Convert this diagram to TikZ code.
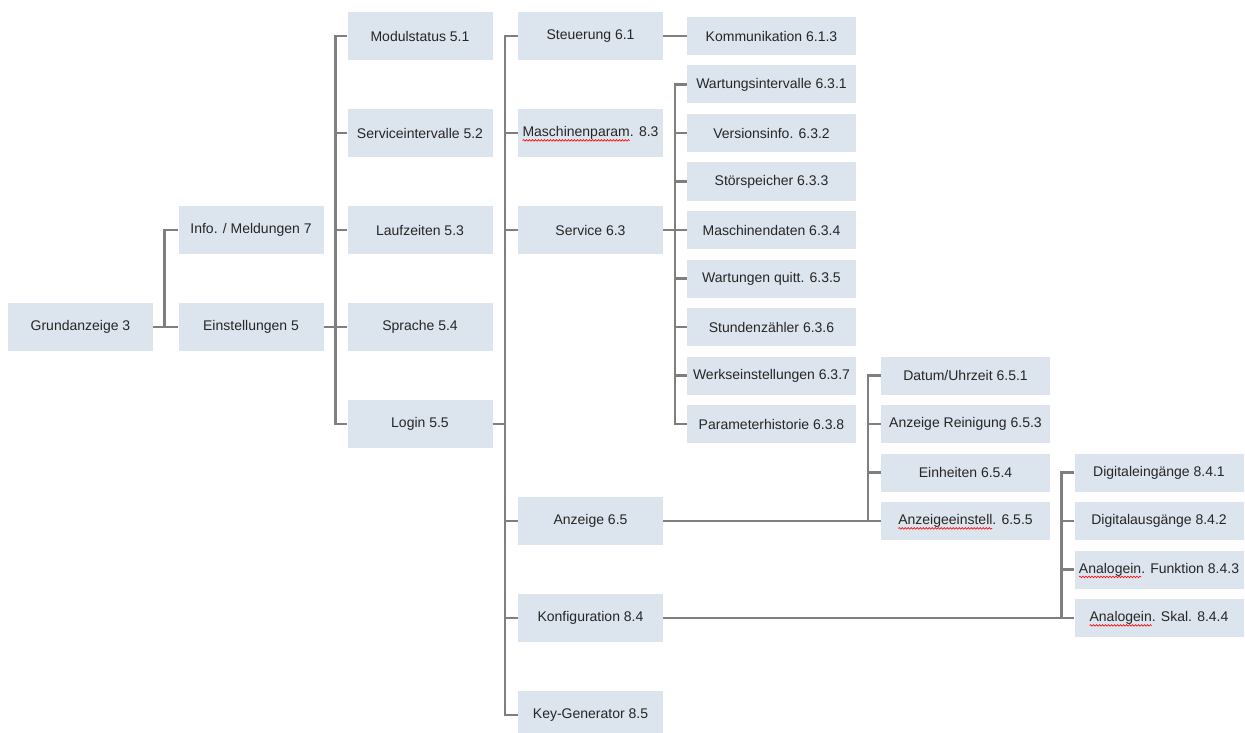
\documentclass[tikz,border=0pt]{standalone}
\usepackage{fontspec}
\setmainfont{Liberation Sans}
\usetikzlibrary{decorations.pathmorphing}
\definecolor{boxfill}{HTML}{DCE4EE}
\definecolor{linegray}{HTML}{7F7F7F}
\definecolor{textgray}{HTML}{262626}
% red wavy underline (spell-check mark) under a word
\newsavebox\spellbox
\newcommand\spellwave[1]{\sbox\spellbox{#1}%
  \tikz[overlay,baseline=0pt,x=1pt,y=1pt]\draw[red,line width=0.6pt,decorate,
    decoration={snake,amplitude=0.8pt,segment length=3pt}]
    (0,-3.8) -- (\the\wd\spellbox,-3.8);%
  \usebox\spellbox}
\begin{document}
\begin{tikzpicture}[x=1pt,y=-1pt,
  bigbox/.style={fill=boxfill,draw=none,minimum width=145pt,minimum height=48pt,
    inner sep=0pt,font=\fontsize{14pt}{16pt}\selectfont,text=textgray},
  smallbox/.style={fill=boxfill,draw=none,minimum width=169pt,minimum height=38pt,
    inner sep=0pt,font=\fontsize{14pt}{16pt}\selectfont,text=textgray},
  link/.style={draw=linegray,line width=2.4pt}]
\useasboundingbox (0,0) rectangle (1245,733);

% level 1 and 2
\node[bigbox] (g3) at (80.5,327) {Grundanzeige 3};
\node[bigbox] (i7) at (251,230) {Info. / Meldungen 7};
\node[bigbox] (e5) at (251,327) {Einstellungen 5};

% level 3 (Einstellungen)
\node[bigbox] (m51) at (420,36)  {Modulstatus 5.1};
\node[bigbox] (s52) at (420,133) {Serviceintervalle 5.2};
\node[bigbox] (l53) at (420,230) {Laufzeiten 5.3};
\node[bigbox] (s54) at (420,327) {Sprache 5.4};
\node[bigbox] (l55) at (420,424) {Login 5.5};

% level 4 (Login)
\node[bigbox] (st61) at (590.5,36)  {Steuerung 6.1};
\node[bigbox] (mp83) at (590.5,133) {\spellwave{Maschinenparam}. 8.3};
\node[bigbox] (sv63) at (590.5,230) {Service 6.3};
\node[bigbox] (a65)  at (590.5,521) {Anzeige 6.5};
\node[bigbox] (k84)  at (590.5,618) {Konfiguration 8.4};
\node[bigbox] (kg85) at (590.5,715) {Key-Generator 8.5};

% level 5
\node[smallbox] (k613) at (771.5,36) {Kommunikation 6.1.3};
\node[smallbox] (w631) at (771.5,84.5)  {Wartungsintervalle 6.3.1};
\node[smallbox] (v632) at (771.5,133)   {Versionsinfo. 6.3.2};
\node[smallbox] (s633) at (771.5,181.5) {Störspeicher 6.3.3};
\node[smallbox] (m634) at (771.5,230)   {Maschinendaten 6.3.4};
\node[smallbox] (w635) at (771.5,278.5) {Wartungen quitt. 6.3.5};
\node[smallbox] (s636) at (771.5,327)   {Stundenzähler 6.3.6};
\node[smallbox] (w637) at (771.5,375.5) {Werkseinstellungen 6.3.7};
\node[smallbox] (p638) at (771.5,424)   {Parameterhistorie 6.3.8};

\node[smallbox] (d651) at (965.5,375.5) {Datum/Uhrzeit 6.5.1};
\node[smallbox] (r653) at (965.5,424)   {Anzeige Reinigung 6.5.3};
\node[smallbox] (e654) at (965.5,472.5) {Einheiten 6.5.4};
\node[smallbox] (a655) at (965.5,521)   {\spellwave{Anzeigeeinstell}. 6.5.5};

\node[smallbox] (d841) at (1159,472.5) {Digitaleingänge 8.4.1};
\node[smallbox] (d842) at (1159,521)   {Digitalausgänge 8.4.2};
\node[smallbox] (a843) at (1159,569.5) {\spellwave{Analogein}. Funktion 8.4.3};
\node[smallbox] (a844) at (1159,618)   {\spellwave{Analogein}. Skal. 8.4.4};

% trunk positions
\coordinate (t2) at ([xshift=-14pt]i7.west);
\coordinate (t3) at ([xshift=-12pt]m51.west);
\coordinate (t4) at ([xshift=-13pt]st61.west);
\coordinate (t63) at ([xshift=-12pt]w631.west);
\coordinate (t65) at ([xshift=-13pt]d651.west);
\coordinate (t84) at ([xshift=-13pt]d841.west);

% Grundanzeige -> level 2
\draw[link] (g3.east) -- (e5.west);
\draw[link] (i7.west) -- (t2) |- (e5.west);

% Einstellungen -> level 3
\draw[link] (e5.east) -- (e5.east -| t3);
\draw[link] (m51.west) -- (t3) |- (l55.west);
\foreach \n in {s52,l53,s54} \draw[link] (\n.west) -- (\n.west -| t3);

% Login -> level 4
\draw[link] (l55.east) -- (l55.east -| t4);
\draw[link] (st61.west) -- (t4) |- (kg85.west);
\foreach \n in {mp83,sv63,a65,k84} \draw[link] (\n.west) -- (\n.west -| t4);

% Steuerung -> Kommunikation
\draw[link] (st61.east) -- (k613.west);

% Service -> 6.3.x
\draw[link] (sv63.east) -- (sv63.east -| t63);
\draw[link] (w631.west) -- (t63) |- (p638.west);
\foreach \n in {v632,s633,m634,w635,s636,w637} \draw[link] (\n.west) -- (\n.west -| t63);

% Anzeige -> 6.5.x
\draw[link] (a65.east) -- (a655.west);
\draw[link] (d651.west) -- (t65) |- (a655.west);
\foreach \n in {r653,e654} \draw[link] (\n.west) -- (\n.west -| t65);

% Konfiguration -> 8.4.x
\draw[link] (k84.east) -- (a844.west);
\draw[link] (d841.west) -- (t84) |- (a844.west);
\foreach \n in {d842,a843} \draw[link] (\n.west) -- (\n.west -| t84);
\end{tikzpicture}
\end{document}
